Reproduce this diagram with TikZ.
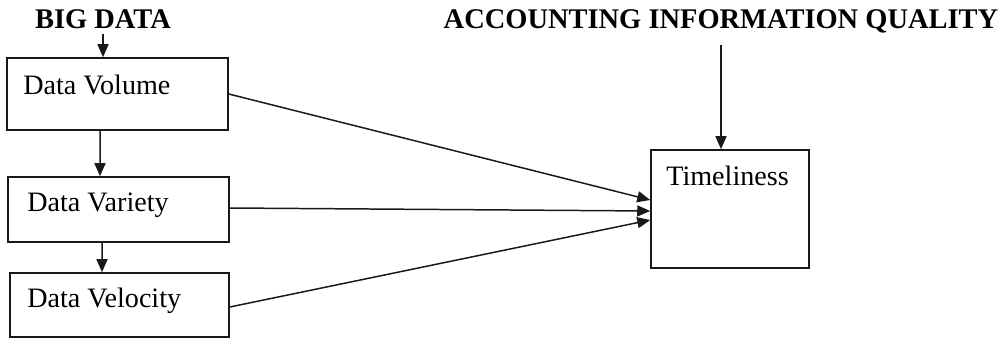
\documentclass[tikz,border=0pt]{standalone}
\usepackage{fontspec}
\setmainfont{Liberation Serif}
\usepackage{tikz}
\usetikzlibrary{
  arrows.meta,
  positioning
}
\definecolor{fwline}{RGB}{25,25,25}
\tikzset{
  fwBox/.style={
    rectangle,
    draw=fwline,
    line width=0.9pt,
    inner sep=0pt
  },
  fwText/.style={
    inner sep=0pt,
    font=\fontsize{16}{19}\selectfont
  },
  fwTitle/.style={
    inner sep=0.08cm,
    font=\fontsize{16.2}{19}\selectfont\bfseries
  },
  fwArrow/.style={
    -{Triangle[length=0.26cm,width=0.22cm]},
    line width=0.85pt,
    draw=fwline
  }
}

\begin{document}
\begin{tikzpicture}[x=0.02cm,y=-0.02cm]
  \useasboundingbox (0,0) rectangle (1003,338);

  \node[fwTitle, anchor=base] (bigData) at (103,29) {BIG DATA};
  \node[fwTitle, anchor=base] (aiq) at (721,29) {ACCOUNTING INFORMATION QUALITY};

  \node[fwBox, minimum width=4.42cm, minimum height=1.44cm]
    (vol) at (117.5,94) {};
  \node[fwBox, minimum width=4.42cm, minimum height=1.30cm]
    (var) at (118.5,209.5) {};
  \node[fwBox, minimum width=4.38cm, minimum height=1.28cm]
    (vel) at (119.5,305) {};
  \node[fwBox, minimum width=3.16cm, minimum height=2.36cm]
    (time) at (730,209) {};

  \node[fwText, anchor=base west] (volText) at (23,94) {Data Volume};
  \node[fwText, anchor=base west] (varText) at (27,211) {Data Variety};
  \node[fwText, anchor=base west] (velText) at (27,307) {Data Velocity};
  \node[fwText, anchor=base] (timeText) at (727.5,185) {Timeliness};

  \draw[fwArrow] (bigData.south) -- (bigData.south |- vol.north);
  \draw[fwArrow] ([xshift=-0.35cm]vol.south) -- ([xshift=-0.37cm]var.north);
  \draw[fwArrow] ([xshift=-0.33cm]var.south) -- ([xshift=-0.35cm]vel.north);
  \draw[fwArrow, shorten <=0.14cm] (aiq.south) -- (aiq.south |- time.north);

  \draw[fwArrow] (vol.east) -- ([yshift=0.18cm]time.west);
  \draw[fwArrow] ([yshift=0.03cm]var.east) -- ([yshift=-0.04cm]time.west);
  \draw[fwArrow] ([yshift=-0.04cm]vel.east) -- ([yshift=-0.22cm]time.west);
\end{tikzpicture}
\end{document}
